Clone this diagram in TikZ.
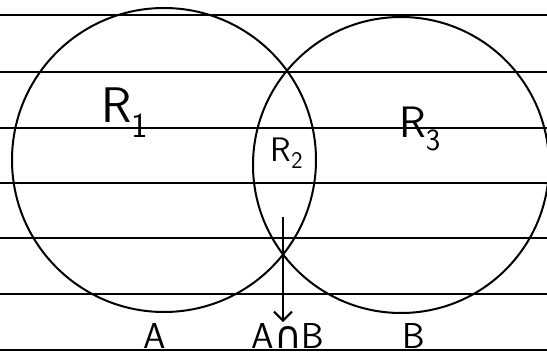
\documentclass[tikz,border=0pt]{standalone}
\usepackage{fontspec}
\newfontfamily\symbfont{DejaVu Sans}
\usetikzlibrary{arrows.meta, positioning}
\tikzset{
  every picture/.style={font=\sffamily, line width=2pt, x=1pt, y=-1pt},
  ruled/.style={line width=1.8pt},
  setcirc/.style={draw, circle, inner sep=0pt, minimum size=#1},
  setcirc/.default=300pt,
  region/.style={font=\sffamily\fontsize{#1}{#1}\selectfont, inner sep=1pt},
  region/.default=36pt,
  arrow/.style={-{Straight Barb[length=9pt, width=18pt]}, line width=2pt},
}

\begin{document}
\begin{tikzpicture}
  \useasboundingbox (0,0) rectangle (547,358);
  % ruled paper
  \foreach \y in {15,72,128,183,238,294,350}
    \draw[ruled] (0,\y) -- (547,\y);
  % the two sets
  \node[setcirc=304pt] (setA) at (164,160) {};
  \node[setcirc=296pt] (setB) at (401,165) {};
  % regions
  \node[region=50pt] (r1) at (125,113) {R\textsubscript{1}};
  \node[region=34pt] (r2) at (287,153) {R\textsubscript{2}};
  \node[region=44pt] (r3) at (420,129) {R\textsubscript{3}};
  % labels under the sets
  \node[region, anchor=base] (lblA) at (155,349) {A};
  \node[region, anchor=base] (lblAB) at (288,349) {A{\symbfont\fontsize{38pt}{38pt}\selectfont ∩}B};
  \node[region, anchor=base] (lblB) at (414,349) {B};
  \coordinate (arrtop) at (283,217);
  \draw[arrow] (arrtop) -- (arrtop |- lblAB.north);
\end{tikzpicture}
\end{document}
